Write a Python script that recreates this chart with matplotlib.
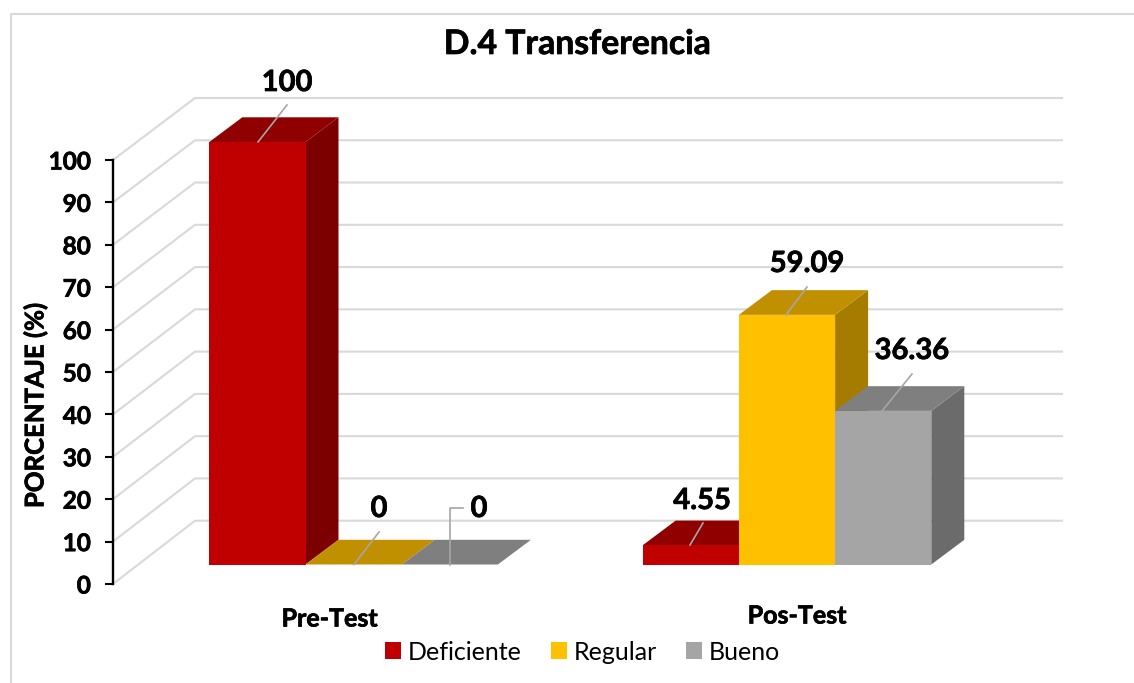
import matplotlib
matplotlib.use("Agg")
import matplotlib.pyplot as plt
from matplotlib.patches import Polygon, Patch
import matplotlib.patheffects as pe

plt.rcParams['font.family'] = ['Lato', 'DejaVu Sans']

categories = ['Pre-Test', 'Pos-Test']
series_names = ['Deficiente', 'Regular', 'Bueno']
deficiente = [100, 4.55]
regular = [0, 59.09]
bueno = [0, 36.36]
value_labels = [['100', '4.55'], ['0', '59.09'], ['0', '36.36']]
yticks = [0, 10, 20, 30, 40, 50, 60, 70, 80, 90, 100]

front = ['#C00000', '#FFC000', '#A5A5A5']
top = ['#900000', '#C09000', '#7F7F7F']
side = ['#7C0000', '#A57C00', '#6B6B6B']

W, H = 1134, 683
PX = 4.225          # pixels per percent
BASE = 564.5        # pixel row of a bar's base
DX, DY = 33, 24.7   # bar depth, pixels
BW = 96.2           # bar width, pixels
GROUP_LEFT = [209.3, 642.7]
HEAVY = [pe.withStroke(linewidth=0.5, foreground='black')]

fig = plt.figure(figsize=(W / 100, H / 100), dpi=100, facecolor='white')
ax = fig.add_axes([0, 0, 1, 1])
ax.set_xlim(0, W)
ax.set_ylim((BASE - H) / PX, BASE / PX)
ax.axis('off')


def v_of_row(row):
    """Value coordinate of a pixel row."""
    return (BASE - row) / PX


# outer frame
ax.plot([11, 11, W], [v_of_row(H), v_of_row(14), v_of_row(14)], color='#D9D9D9', lw=1.5, zorder=1)

# walls: back gridlines and the floor/side slants
for t in yticks:
    back = v_of_row(520.7) + t * 4.227 / PX
    sidey = v_of_row(584) + t * 4.24 / PX
    ax.plot([113, 195, 1062], [sidey, back, back], color='#D9D9D9', lw=1.5, zorder=1,
            solid_joinstyle='miter')

# 3-D bars
dyv = DY / PX
for s, vals in enumerate([deficiente, regular, bueno]):
    for g, v in enumerate(vals):
        x0 = GROUP_LEFT[g] + s * BW
        x1 = x0 + BW
        z = 3 + g * 10 + s
        ax.add_patch(Polygon([(x1, 0), (x1 + DX, dyv), (x1 + DX, v + dyv), (x1, v)],
                             facecolor=side[s], edgecolor='none', zorder=z))
        ax.add_patch(Polygon([(x0, v), (x0 + DX, v + dyv), (x1 + DX, v + dyv), (x1, v)],
                             facecolor=top[s], edgecolor='none', zorder=z))
        ax.bar(x0, v, width=BW, align='edge', color=front[s], edgecolor='none',
               linewidth=0, zorder=z)

# value labels with leader lines
label_pos = [[(287, 83), (702, 501)], [(379, 509), (807, 264)], [(479, 509), (912, 351)]]
leaders = [[[(258, 142), (287, 105)], [(690, 545), (703, 523)]],
           [[(354, 564.5), (379, 532)], [(786, 315), (807, 287)]],
           [[(450, 564.5), (450, 508), (463, 508)], [(882, 411), (912, 374)]]]
for s in range(3):
    for g in range(2):
        pts = leaders[s][g]
        ax.plot([p[0] for p in pts], [v_of_row(p[1]) for p in pts], color='#A6A6A6', lw=1.2, zorder=40)
        x, y = label_pos[s][g]
        ax.text(x, v_of_row(y), value_labels[s][g], ha='center', va='center',
                fontsize=21, fontweight='bold', color='black', zorder=41, path_effects=HEAVY)

# value axis
vax = fig.add_axes([113 / W, (H - 584) / H, 0.01, 424 / H])
vax.patch.set_alpha(0)
vax.set_ylim(0, 100)
vax.set_xticks([])
vax.set_yticks(yticks)
vax.set_yticklabels([str(t) for t in yticks], fontsize=17.5, fontweight='bold', path_effects=HEAVY)
vax.tick_params(axis='y', length=6, width=1.5, color='black', pad=10)
for name, sp in vax.spines.items():
    sp.set_visible(name == 'left')
vax.spines['left'].set_linewidth(1.7)
vax.spines['left'].set_color('black')

ax.text(35, v_of_row(405), 'PORCENTAJE (%)', rotation=90, ha='center', va='center',
        fontsize=18.5, fontweight='bold', path_effects=HEAVY)
ax.text(577.5, v_of_row(44), 'D.4 Transferencia', ha='center', va='center',
        fontsize=24.3, fontweight='bold', path_effects=HEAVY)

cat_pos = [(329.5, 619), (797, 616)]
for c, (x, y) in zip(categories, cat_pos):
    ax.text(x, v_of_row(y), c, ha='center', va='center', fontsize=18, fontweight='bold',
            path_effects=HEAVY)

handles = [Patch(facecolor=c, edgecolor='none', label=n) for c, n in zip(front, series_names)]
leg = ax.legend(handles=handles, ncol=3, frameon=False, loc='center',
                bbox_to_anchor=(582.5 / W, 1 - 652 / H), bbox_transform=fig.transFigure,
                fontsize=18, handlelength=0.64, handleheight=0.64, handletextpad=0.28,
                columnspacing=1.15, borderpad=0)

fig.savefig('out.png', dpi=100, facecolor='white')
